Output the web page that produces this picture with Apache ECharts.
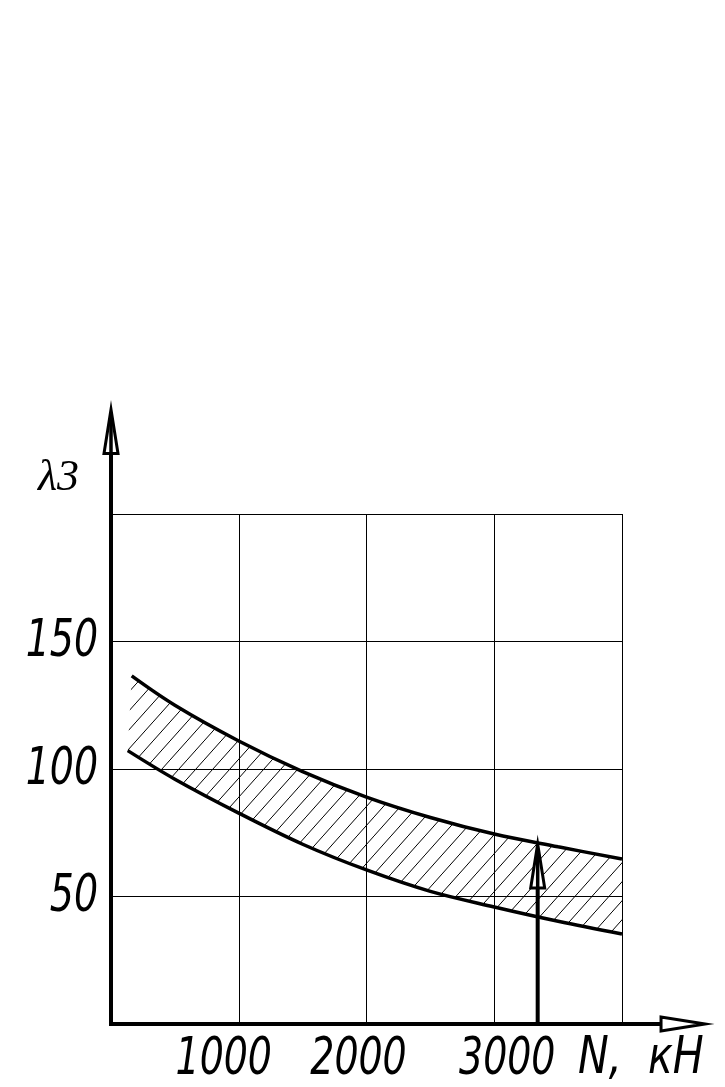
<!DOCTYPE html>
<html>
<head>
<meta charset="utf-8">
<script src="https://cdn.jsdelivr.net/npm/echarts@6/dist/echarts.min.js"></script>
<style>
html,body{margin:0;padding:0;background:#fff;}
#chart{width:725px;height:1087px;}
</style>
</head>
<body>
<div id="chart"></div>
<script>
// ---- data ----
const N_UPPER = [162, 500, 1000, 1500, 2000, 2500, 3000, 3500, 4000];     // N, kN
const UPPER   = [136.5, 125, 111, 99, 89, 81, 74.5, 69.5, 64.7];          // upper bound of λ3
const N_LOWER = [131, 500, 1000, 1500, 2000, 2500, 3000, 3500, 4000];     // N, kN
const LOWER   = [107.2, 96, 82.7, 70.5, 60.4, 52, 45.9, 40.3, 35.3];      // lower bound of λ3
const X_TICKS = [1000, 2000, 3000];
const Y_TICKS = [50, 100, 150];
const ARROW_N = 3340;        // vertical arrow position (N)
const ARROW_TOP = 70.6;      // arrow tip value (λ3)
const X_AXIS_END = 4650;     // extent of drawn x axis arrow
const Y_AXIS_END = 241;      // extent of drawn y axis arrow
const X_NAME = 'N,  кН';
const Y_NAME = 'λ3';

const FONT = "italic 52px 'DejaVu Sans Condensed', 'DejaVu Sans', sans-serif";
const SQUEEZE = 0.81;

function makeHatch() {
  const W = 17, H = 19;
  const c = document.createElement('canvas');
  c.width = W; c.height = H;
  const g = c.getContext('2d');
  g.strokeStyle = '#000';
  g.lineWidth = 1;
  g.beginPath();
  g.moveTo(-W * 0.1, H * 1.1);
  g.lineTo(W * 1.1, -H * 0.1);
  g.stroke();
  return c;
}
const HATCH = makeHatch();

const upperData = N_UPPER.map((n, i) => [n, UPPER[i]]);
const lowerData = N_LOWER.map((n, i) => [n, LOWER[i]]);

const xShift = {1000: -15, 2000: -8, 3000: 13};

const chart = echarts.init(document.getElementById('chart'), null, {renderer: 'canvas'});
const SMOOTH = 0.35;

chart.setOption({
  animation: false,
  backgroundColor: '#fff',
  grid: {left: 111, top: 514, width: 511, height: 510, containLabel: false},
  xAxis: {
    type: 'value', min: 0, max: 4000, interval: 1000,
    axisLine: {show: false}, axisTick: {show: false}, axisLabel: {show: false},
    splitLine: {show: true, lineStyle: {color: '#000', width: 1}}
  },
  yAxis: {
    type: 'value', min: 0, max: 200, interval: 50,
    axisLine: {show: false}, axisTick: {show: false}, axisLabel: {show: false},
    splitLine: {show: true, lineStyle: {color: '#000', width: 1}}
  },
  graphic: [
    {type: 'text', x: 38, y: 478, style: {text: Y_NAME, fill: '#000',
      font: 'italic 44px "Liberation Serif", "DejaVu Serif", serif',
      textAlign: 'left', textVerticalAlign: 'middle'}},
    {type: 'text', x: 578, y: 1059, scaleX: 0.88, style: {text: X_NAME, fill: '#000',
      font: FONT, textAlign: 'left', textVerticalAlign: 'middle'}}
  ],
  series: [
    {
      // hatched band between the two bounds
      type: 'custom', z: 3, clip: false, silent: true,
      data: [[0, 0]],
      renderItem: function (params, api) {
        const pts = upperData.map(p => api.coord(p))
          .concat(lowerData.slice().reverse().map(p => api.coord(p)));
        return {type: 'polygon', shape: {points: pts},
          style: {fill: {image: HATCH, repeat: 'repeat'}, stroke: null}};
      }
    },
    {
      type: 'line', name: 'lower', data: lowerData, smooth: SMOOTH,
      symbol: 'none', lineStyle: {color: '#000', width: 3.5}, z: 4
    },
    {
      type: 'line', name: 'upper', data: upperData, smooth: SMOOTH,
      symbol: 'none', lineStyle: {color: '#000', width: 3.5}, z: 4
    },
    {
      // tick labels, placed through the axis scales
      type: 'custom', z: 5, clip: false, silent: true,
      data: [[0, 0]],
      renderItem: function (params, api) {
        const children = [];
        X_TICKS.forEach(v => {
          const p = api.coord([v, 0]);
          children.push({type: 'text', x: p[0] + (xShift[v] || 0), y: p[1] + 36, scaleX: SQUEEZE,
            style: {text: String(v), font: FONT, fill: '#000', textAlign: 'center', textVerticalAlign: 'middle'}});
        });
        Y_TICKS.forEach(v => {
          const p = api.coord([0, v]);
          children.push({type: 'text', x: p[0] - 13, y: p[1] + 1, scaleX: SQUEEZE,
            style: {text: String(v), font: FONT, fill: '#000', textAlign: 'right', textVerticalAlign: 'middle'}});
        });
        return {type: 'group', children: children};
      }
    },
    {
      // axes with arrows and the vertical pointer arrow
      type: 'custom', z: 6, clip: false, silent: true,
      data: [[0, 0]],
      renderItem: function (params, api) {
        const O = api.coord([0, 0]);
        const XE = api.coord([X_AXIS_END, 0]);
        const YE = api.coord([0, Y_AXIS_END]);
        const A0 = api.coord([ARROW_N, 0]);
        const AT = api.coord([ARROW_N, ARROW_TOP]);
        const head = (tip, len, hw, dir) => {
          if (dir === 'up') {
            return [
              {type: 'polygon', shape: {points: [[tip[0], tip[1]], [tip[0] - hw, tip[1] + len], [tip[0] + hw, tip[1] + len]]},
                style: {fill: '#fff', stroke: '#000', lineWidth: 3, lineJoin: 'miter'}},
              {type: 'line', shape: {x1: tip[0], y1: tip[1] + len, x2: tip[0], y2: tip[1] + 6},
                style: {stroke: '#000', lineWidth: 3.5}}
            ];
          }
          return [
            {type: 'polygon', shape: {points: [[tip[0], tip[1]], [tip[0] - len, tip[1] - hw], [tip[0] - len, tip[1] + hw]]},
              style: {fill: '#fff', stroke: '#000', lineWidth: 3, lineJoin: 'miter'}}
          ];
        };
        const children = [
          {type: 'line', shape: {x1: O[0], y1: O[1], x2: XE[0] - 44, y2: XE[1]},
            style: {stroke: '#000', lineWidth: 4}},
          {type: 'line', shape: {x1: O[0], y1: O[1] + 2, x2: YE[0], y2: YE[1] + 44},
            style: {stroke: '#000', lineWidth: 4}},
          {type: 'line', shape: {x1: A0[0], y1: A0[1], x2: AT[0], y2: AT[1] + 44},
            style: {stroke: '#000', lineWidth: 4}}
        ]
          .concat(head(XE, 44, 7, 'right'))
          .concat(head(YE, 44, 7, 'up'))
          .concat(head(AT, 44, 7, 'up'));
        return {type: 'group', children: children};
      }
    }
  ]
});
</script>
</body>
</html>
